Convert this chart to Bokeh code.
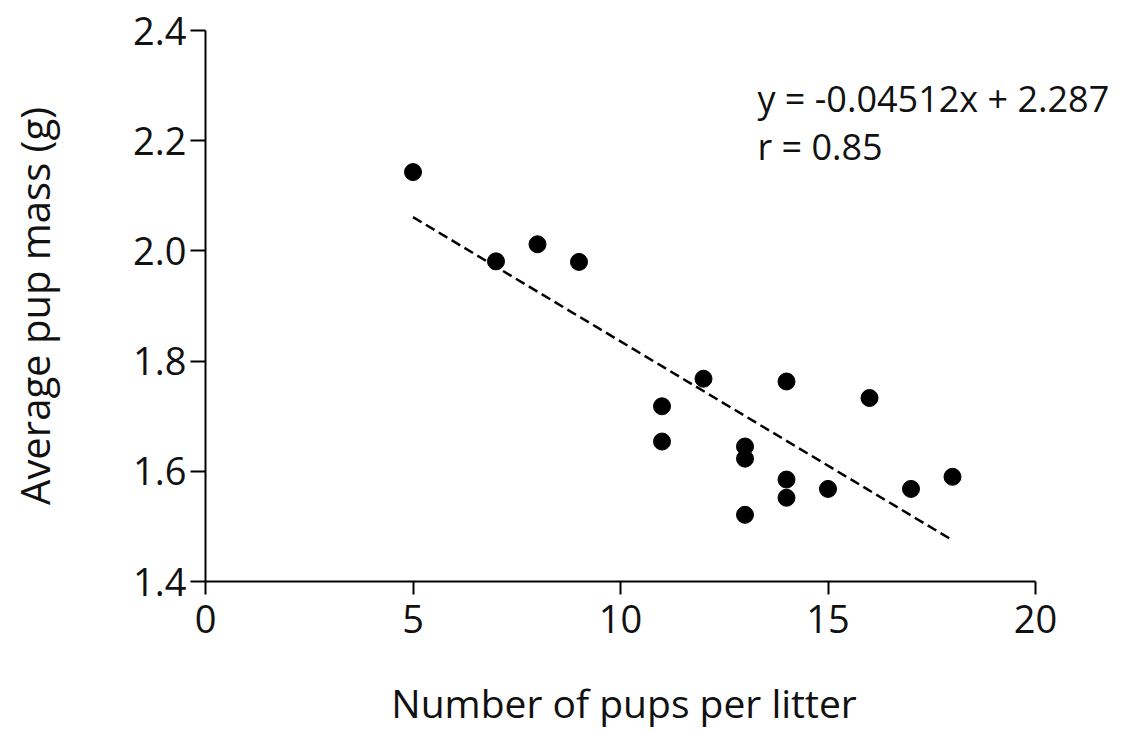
from bokeh.plotting import figure
from bokeh.models import Range1d, Label, FixedTicker
from bokeh.embed import file_html
from bokeh.resources import INLINE

# Data
pups = [5, 7, 8, 9, 11, 11, 12, 13, 13, 13, 14, 14, 14, 15, 16, 17, 18]
mass = [2.143, 1.981, 2.012, 1.980, 1.718, 1.654, 1.768, 1.645, 1.623, 1.521,
        1.763, 1.585, 1.552, 1.568, 1.733, 1.568, 1.590]
slope = -0.04512
intercept = 2.287
fit_x = [5, 18]
fit_y = [slope * x + intercept for x in fit_x]
x_ticks = [0, 5, 10, 15, 20]
y_ticks = [1.4, 1.6, 1.8, 2.0, 2.2, 2.4]

FONT = "Open Sans"

# frame is 908 px wide; x axis 0..20 occupies 830 px, leaving room for the equation text
x_end = 20 * 908 / 830

p = figure(width=1117, height=731, output_backend="svg", toolbar_location=None,
           x_range=Range1d(0, x_end), y_range=Range1d(1.4, 2.4),
           min_border_left=205, min_border_right=4, min_border_top=30,
           min_border_bottom=150)
p.outline_line_color = None
p.grid.visible = False
p.background_fill_color = "white"

p.line(fit_x, fit_y, line_color="black", line_width=2.5, line_dash="10 5")
p.scatter(pups, mass, size=17, fill_color="black", line_color="black")

for ax in (p.xaxis[0], p.yaxis[0]):
    ax.axis_line_width = 2
    ax.major_tick_line_width = 2
    ax.major_tick_in = 0
    ax.minor_tick_line_color = None
    ax.major_label_text_font = FONT
    ax.major_label_text_font_size = "38px"
    ax.major_label_text_color = "#111111"
    ax.axis_label_text_font = FONT
    ax.axis_label_text_font_style = "normal"
    ax.axis_label_text_color = "#111111"

p.xaxis.bounds = (0, 20)
p.xaxis.major_tick_out = 13
p.yaxis.major_tick_out = 15
p.xaxis.ticker = FixedTicker(ticks=x_ticks)
p.yaxis.ticker = FixedTicker(ticks=y_ticks)
p.yaxis.major_label_overrides = {1.4: "1.4", 1.6: "1.6", 1.8: "1.8", 2.0: "2.0", 2.2: "2.2", 2.4: "2.4"}
p.xaxis.major_label_standoff = 10
p.yaxis.major_label_standoff = 4
# trailing no-break spaces re-centre the label under the 0..20 part of the frame
p.xaxis.axis_label = "Number of pups per litter" + "\u00a0" * 7
p.yaxis.axis_label = "Average pup mass (g)"
p.xaxis.axis_label_text_font_size = "39px"
p.yaxis.axis_label_text_font_size = "40px"
p.xaxis.axis_label_standoff = 40
p.yaxis.axis_label_standoff = 68

p.add_layout(Label(x=13.3, y=2.276, text="y = -0.04512x + 2.287", text_font=FONT,
                   text_font_size="36px", text_baseline="middle", text_color="#111111"))
p.add_layout(Label(x=13.3, y=2.190, text="r = 0.85", text_font=FONT,
                   text_font_size="36px", text_baseline="middle", text_color="#111111"))

open("out.html", "w").write(file_html(p, INLINE))
